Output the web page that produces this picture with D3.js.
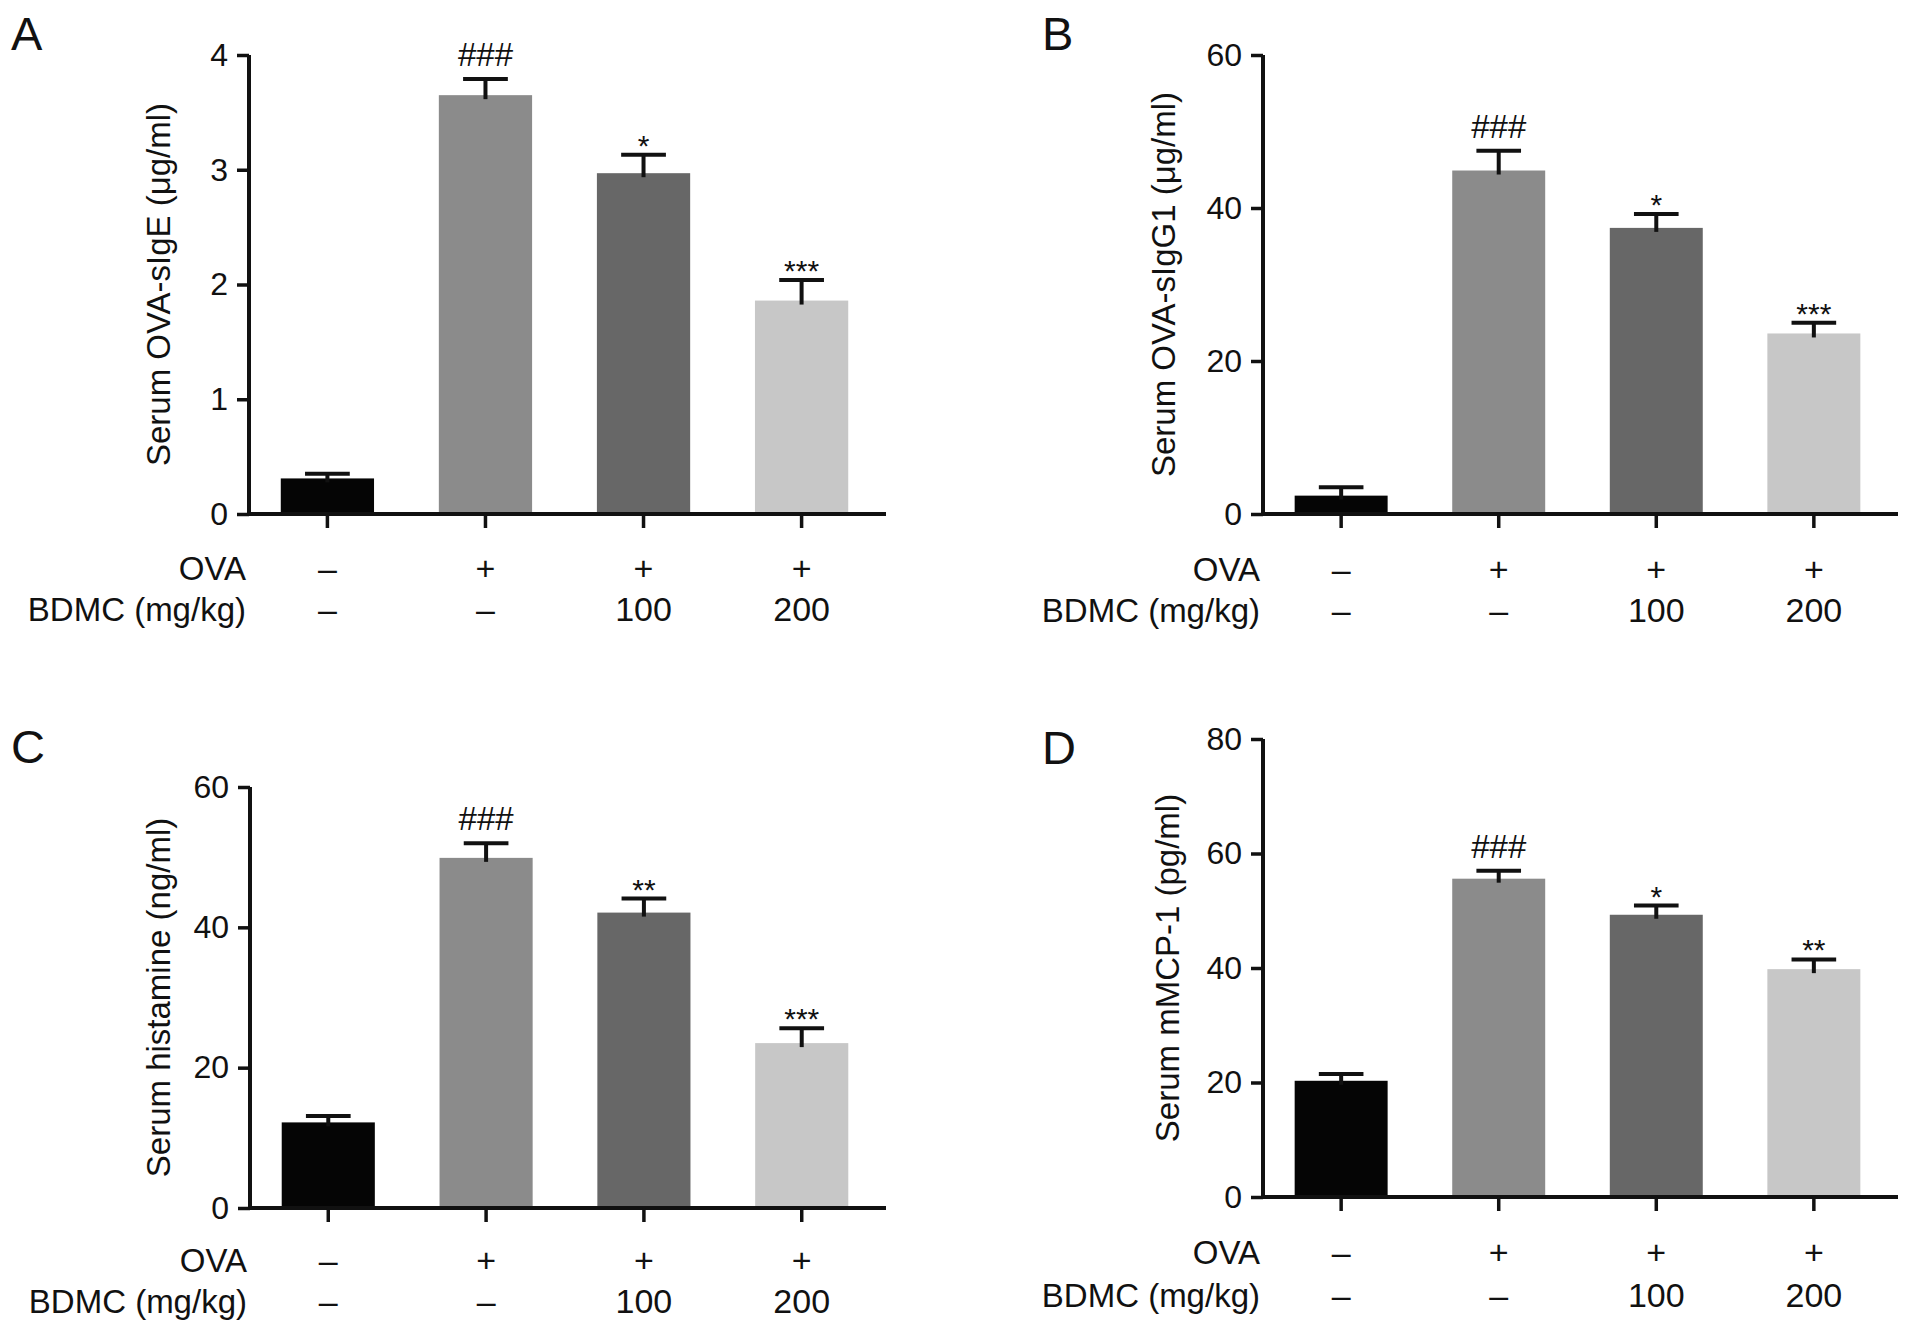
<!DOCTYPE html>
<html>
<head>
<meta charset="utf-8">
<script src="https://cdn.jsdelivr.net/npm/d3@7"></script>
<style>
  body { margin: 0; background: #fff; }
  svg text { font-family: "Liberation Sans", Arial, Helvetica, sans-serif; fill: #111; }
</style>
</head>
<body>
<svg id="fig" width="1913" height="1335"></svg>
<script>
// groups and row labels under the x axis
var groups = ['control', 'ova', 'bdmc100', 'bdmc200'];
var ovaRow = ['\u2013', '+', '+', '+'];
var bdmcRow = ['\u2013', '\u2013', '100', '200'];

// A: serum OVA-sIgE
var igeMean = [0.31, 3.65, 2.97, 1.86];
var igeErr = [0.04, 0.14, 0.16, 0.18];
var igeSig = ['', '###', '*', '***'];
var igeTicks = [0, 1, 2, 3, 4];

// B: serum OVA-sIgG1
var igg1Mean = [2.4, 44.9, 37.4, 23.6];
var igg1Err = [1.1, 2.6, 1.8, 1.4];
var igg1Sig = ['', '###', '*', '***'];
var igg1Ticks = [0, 20, 40, 60];

// C: serum histamine
var histMean = [12.2, 49.9, 42.1, 23.5];
var histErr = [0.9, 2.1, 2.0, 2.1];
var histSig = ['', '###', '**', '***'];
var histTicks = [0, 20, 40, 60];

// D: serum mMCP-1
var mcpMean = [20.3, 55.6, 49.3, 39.8];
var mcpErr = [1.2, 1.4, 1.6, 1.7];
var mcpSig = ['', '###', '*', '**'];
var mcpTicks = [0, 20, 40, 60, 80];

var barFill = ['#050505', '#8b8b8b', '#676767', '#c7c7c7'];

var panels = [
  { letter: 'A', title: 'Serum OVA-sIgE (\u03bcg/ml)', mean: igeMean, err: igeErr, sig: igeSig, ticks: igeTicks,
    ax: 249, xEnd: 886, y0: 514, yTop: 55, ovaY: 580, bdmcY: 621, titleX: 158, lx: 11, ly: 50 },
  { letter: 'B', title: 'Serum OVA-sIgG1 (\u03bcg/ml)', mean: igg1Mean, err: igg1Err, sig: igg1Sig, ticks: igg1Ticks,
    ax: 1263, xEnd: 1898, y0: 514, yTop: 55, ovaY: 581, bdmcY: 622, titleX: 1163, lx: 1042, ly: 50 },
  { letter: 'C', title: 'Serum histamine (ng/ml)', mean: histMean, err: histErr, sig: histSig, ticks: histTicks,
    ax: 250, xEnd: 886, y0: 1208, yTop: 787, ovaY: 1272, bdmcY: 1313, titleX: 158, lx: 11, ly: 763 },
  { letter: 'D', title: 'Serum mMCP-1 (pg/ml)', mean: mcpMean, err: mcpErr, sig: mcpSig, ticks: mcpTicks,
    ax: 1263, xEnd: 1898, y0: 1197, yTop: 739, ovaY: 1264, bdmcY: 1307, titleX: 1167, lx: 1042, ly: 764 }
];

var svg = d3.select('#fig');

panels.forEach(function (p) {
  var g = svg.append('g');
  // bars sit a little left of a symmetric layout in the original
  var x = d3.scaleBand().domain(groups).range([p.ax - 3, p.xEnd - 3]).paddingInner(0.41).paddingOuter(0.22);
  var y = d3.scaleLinear().domain([0, d3.max(p.ticks)]).range([p.y0, p.yTop]);
  var capHalf = x.bandwidth() * 0.24;
  var cx = function (d, i) { return x(groups[i]) + x.bandwidth() / 2; };

  // bars
  g.selectAll('rect.bar').data(p.mean).enter().append('rect')
    .attr('x', function (d, i) { return x(groups[i]); })
    .attr('y', function (d) { return y(d); })
    .attr('width', x.bandwidth())
    .attr('height', function (d) { return y(0) - y(d); })
    .attr('fill', function (d, i) { return barFill[i]; });

  // error bars (upper only)
  var eb = g.selectAll('g.eb').data(p.mean).enter().append('g')
    .attr('stroke', '#111').attr('stroke-width', 4);
  eb.append('line')
    .attr('x1', cx).attr('x2', cx)
    .attr('y1', function (d) { return y(d) + 4; })
    .attr('y2', function (d, i) { return y(d + p.err[i]); });
  eb.append('line')
    .attr('x1', function (d, i) { return cx(d, i) - capHalf; })
    .attr('x2', function (d, i) { return cx(d, i) + capHalf; })
    .attr('y1', function (d, i) { return y(d + p.err[i]); })
    .attr('y2', function (d, i) { return y(d + p.err[i]); });

  // significance marks
  g.selectAll('text.sig').data(p.sig).enter().append('text')
    .attr('x', cx)
    .attr('y', function (d, i) {
      var top = y(p.mean[i] + p.err[i]);
      return d.charAt(0) === '#' ? top - 13 : top + 1;
    })
    .attr('text-anchor', 'middle')
    .style('font-size', function (d) { return d.charAt(0) === '#' ? '33px' : '30px'; })
    .text(function (d) { return d; });

  // y axis
  var yAxis = g.append('g').attr('transform', 'translate(' + p.ax + ',0)')
    .call(d3.axisLeft(y).tickValues(p.ticks).tickSize(12).tickPadding(9).tickFormat(d3.format('d')));
  yAxis.selectAll('path.domain').attr('stroke', '#111').attr('stroke-width', 4).attr('d', 'M0,' + p.y0 + 'V' + p.yTop);
  yAxis.selectAll('.tick line').attr('stroke', '#111').attr('stroke-width', 3.5);
  yAxis.selectAll('.tick text').style('font-size', '32px').attr('fill', '#111');

  // x axis
  var xAxis = g.append('g').attr('transform', 'translate(0,' + p.y0 + ')')
    .call(d3.axisBottom(x).tickSize(14).tickFormat(''));
  xAxis.selectAll('path.domain').attr('stroke', '#111').attr('stroke-width', 4).attr('d', 'M' + (p.ax - 2) + ',0H' + p.xEnd);
  xAxis.selectAll('.tick line').attr('stroke', '#111').attr('stroke-width', 3.5);

  // treatment rows
  [[ovaRow, p.ovaY, 'OVA'], [bdmcRow, p.bdmcY, 'BDMC (mg/kg)']].forEach(function (row) {
    g.append('text').attr('x', p.ax - 3).attr('y', row[1]).attr('text-anchor', 'end')
      .style('font-size', '33px').text(row[2]);
    g.selectAll(null).data(row[0]).enter().append('text')
      .attr('x', cx)
      .attr('y', row[1])
      .attr('text-anchor', 'middle')
      .style('font-size', '34px')
      .attr('fill', function (d) { return d === '\u2013' ? '#555' : '#111'; })
      .text(function (d) { return d; });
  });

  // y title
  g.append('text')
    .attr('transform', 'translate(' + p.titleX + ',' + (p.y0 + p.yTop) / 2 + ') rotate(-90)')
    .attr('text-anchor', 'middle')
    .attr('dy', '0.35em')
    .style('font-size', '33px')
    .text(p.title);

  // panel letter
  g.append('text').attr('x', p.lx).attr('y', p.ly).style('font-size', '47px').text(p.letter);
});
</script>
</body>
</html>
